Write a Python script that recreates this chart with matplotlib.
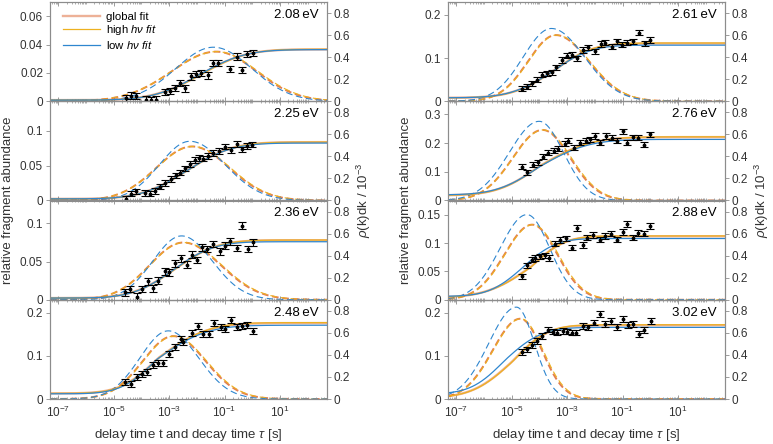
import math
import numpy as np
import matplotlib
matplotlib.use("Agg")
import matplotlib.pyplot as plt
from matplotlib.lines import Line2D
from matplotlib.ticker import FixedLocator, LogLocator, NullFormatter

plt.rcParams["font.family"] = ["Liberation Sans", "DejaVu Sans"]
plt.rcParams["mathtext.fontset"] = "custom"
plt.rcParams["mathtext.rm"] = "Liberation Sans"
plt.rcParams["mathtext.it"] = "Liberation Sans:italic"
plt.rcParams["mathtext.default"] = "regular"

energies = ["2.08", "2.25", "2.36", "2.48", "2.61", "2.76", "2.88", "3.02"]
abund_top = [0.07, 0.142, 0.13, 0.23, 0.23, 0.346, 0.175, 0.23]
abund_ticks = [[0, 0.02, 0.04, 0.06], [0, 0.05, 0.1], [0, 0.05, 0.1], [0, 0.1, 0.2],
               [0, 0.1, 0.2], [0, 0.1, 0.2, 0.3], [0, 0.05, 0.1, 0.15], [0, 0.1, 0.2]]
rho_ticks = [0, 0.2, 0.4, 0.6, 0.8]
rho_top = 0.9
t_min, t_max = 5e-8, 5e2
t_ticks = [1e-7, 1e-5, 1e-3, 1e-1, 1e1]

# measured fragment abundance; delay times given as log10(t / s)
log_t = [
    [-4.55, -4.37, -4.19, -3.85, -3.67, -3.49, -3.15, -2.97, -2.79, -2.61, -2.43,
     -2.20, -2.02, -1.86, -1.61, -1.42, -1.24, -0.80, -0.56, -0.38, -0.20, 0.04],
    [-4.57, -4.39, -4.21, -3.87, -3.69, -3.51, -3.33, -3.15, -2.93, -2.75, -2.61, -2.43,
     -2.25, -2.07, -1.93, -1.76, -1.58, -1.40, -1.20, -0.98, -0.76, -0.56, -0.38, -0.20, -0.02],
    [-4.59, -4.41, -4.17, -3.99, -3.77, -3.57, -3.39, -3.15, -3.00, -2.79, -2.57, -2.37,
     -2.18, -2.00, -1.80, -1.64, -1.40, -1.16, -0.98, -0.80, -0.56, -0.38, -0.14, 0.04],
    [-4.59, -4.38, -4.17, -3.99, -3.81, -3.57, -3.39, -3.21, -3.00, -2.79, -2.57, -2.49,
     -2.16, -1.95, -1.77, -1.56, -1.37, -1.13, -0.98, -0.77, -0.56, -0.38, -0.20, 0.04],
    [-4.64, -4.46, -4.28, -4.10, -3.92, -3.74, -3.56, -3.40, -3.20, -2.99, -2.84, -2.66,
     -2.41, -2.23, -1.99, -1.79, -1.63, -1.39, -1.21, -1.03, -0.85, -0.63, -0.39, -0.19, -0.01],
    [-4.64, -4.46, -4.22, -4.04, -3.86, -3.68, -3.47, -3.32, -3.08, -2.96, -2.75, -2.54,
     -2.32, -2.18, -1.99, -1.81, -1.60, -1.39, -1.21, -0.99, -0.85, -0.61, -0.43, -0.22, -0.01],
    [-4.64, -4.46, -4.28, -4.16, -3.98, -3.80, -3.64, -3.44, -3.24, -3.04, -2.84, -2.63,
     -2.42, -2.27, -2.08, -1.81, -1.63, -1.43, -1.21, -1.00, -0.83, -0.61, -0.43, -0.22, -0.01],
    [-4.64, -4.46, -4.28, -4.10, -3.92, -3.68, -3.52, -3.35, -3.16, -2.99, -2.84, -2.68,
     -2.42, -2.23, -2.03, -1.81, -1.63, -1.43, -1.21, -0.99, -0.79, -0.61, -0.39, -0.22, 0.02],
]
abundance = [
    [0.0025, 0.0040, 0.0035, 0.0012, 0.0008, 0.0012, 0.0065, 0.0072, 0.0095, 0.0128, 0.0090,
     0.0175, 0.0190, 0.0200, 0.0182, 0.0268, 0.0268, 0.0230, 0.0315, 0.0218, 0.0335, 0.0342],
    [0.002, 0.010, 0.013, 0.011, 0.010, 0.014, 0.020, 0.025, 0.031, 0.036, 0.040, 0.046,
     0.052, 0.058, 0.061, 0.060, 0.064, 0.068, 0.071, 0.077, 0.072, 0.081, 0.073, 0.078, 0.080],
    [0.0096, 0.014, 0.0039, 0.014, 0.024, 0.0153, 0.0249, 0.0371, 0.0358, 0.0476, 0.0546, 0.0459,
     0.059, 0.052, 0.0686, 0.0664, 0.073, 0.0633, 0.0708, 0.0764, 0.0677, 0.097, 0.0664, 0.0751],
    [0.040, 0.0346, 0.0515, 0.0577, 0.063, 0.0785, 0.0824, 0.0824, 0.104, 0.121, 0.138, 0.132,
     0.152, 0.169, 0.150, 0.150, 0.176, 0.167, 0.163, 0.184, 0.166, 0.169, 0.171, 0.158],
    [0.0286, 0.034, 0.0416, 0.050, 0.0617, 0.0647, 0.067, 0.0785, 0.0956, 0.1055, 0.108, 0.100,
     0.1187, 0.1247, 0.1155, 0.1325, 0.136, 0.126, 0.1386, 0.131, 0.136, 0.1386, 0.159, 0.134, 0.1418],
    [0.118, 0.098, 0.125, 0.133, 0.152, 0.167, 0.173, 0.181, 0.198, 0.208, 0.184, 0.202,
     0.208, 0.213, 0.225, 0.202, 0.225, 0.219, 0.208, 0.242, 0.202, 0.221, 0.219, 0.194, 0.231],
    [0.041, 0.0606, 0.0707, 0.0742, 0.0765, 0.0783, 0.0742, 0.099, 0.105, 0.108, 0.092, 0.127,
     0.096, 0.1095, 0.1136, 0.106, 0.112, 0.1166, 0.106, 0.1195, 0.133, 0.1095, 0.1177, 0.1166, 0.1295],
    [0.109, 0.115, 0.125, 0.135, 0.146, 0.161, 0.156, 0.154, 0.158, 0.156, 0.154, 0.154,
     0.169, 0.166, 0.177, 0.197, 0.174, 0.181, 0.1675, 0.185, 0.171, 0.174, 0.150, 0.160, 0.181],
]
abundance_err = [0.0022, 0.004, 0.0045, 0.007, 0.006, 0.009, 0.005, 0.0065]

# fit results per panel, columns: global fit, high hv fit, low hv fit
# abundance curve: base, plateau, midpoint (log10 t), lower / upper width in decades
rise_base = [[0.0008, 0.0008, 0.0008], [0.0023, 0.0023, 0.0023], [0.0022, 0.0022, 0.0022],
             [0.013, 0.013, 0.012], [0.008, 0.008, 0.008], [0.018, 0.018, 0.0196],
             [0.004, 0.004, 0.006], [0.003, 0.003, 0.012]]
rise_top = [[0.0366, 0.0367, 0.0364], [0.0835, 0.0836, 0.0822], [0.078, 0.0782, 0.076],
            [0.176, 0.177, 0.171], [0.134, 0.135, 0.130], [0.221, 0.222, 0.213],
            [0.112, 0.1125, 0.108], [0.171, 0.172, 0.166]]
rise_mid = [[-1.88, -1.85, -1.92], [-2.36, -2.34, -2.38], [-2.80, -2.78, -2.85],
            [-3.40, -3.38, -3.45], [-3.48, -3.46, -3.52], [-4.00, -3.98, -4.02],
            [-4.31, -4.29, -4.60], [-4.98, -4.96, -5.26]]
rise_lo = [[1.35, 1.35, 1.30], [1.30, 1.30, 1.28], [1.20, 1.20, 1.15], [1.05, 1.05, 1.00],
           [1.20, 1.20, 1.20], [1.20, 1.20, 1.20], [1.27, 1.27, 0.96], [1.15, 1.15, 0.95]]
rise_hi = [[1.30, 1.30, 1.30], [1.30, 1.30, 1.28], [1.20, 1.20, 1.15], [1.40, 1.40, 1.40],
           [1.10, 1.10, 1.08], [1.45, 1.45, 1.40], [0.95, 0.95, 0.93], [1.00, 1.00, 1.05]]
# decay time distribution rho(k)dk: peak position (log10 tau), height, left / right width
peak_pos = [[-1.30, -1.28, -1.40], [-2.17, -2.15, -2.25], [-2.49, -2.47, -2.55],
            [-2.85, -2.83, -3.03], [-3.41, -3.39, -3.57], [-3.89, -3.87, -4.01],
            [-4.26, -4.24, -4.45], [-4.69, -4.67, -4.83]]
peak_height = [[0.45, 0.45, 0.49], [0.49, 0.49, 0.537], [0.519, 0.519, 0.579],
               [0.57, 0.57, 0.618], [0.60, 0.60, 0.66], [0.64, 0.64, 0.718],
               [0.681, 0.681, 0.772], [0.728, 0.728, 0.833]]
peak_lo = [[1.60, 1.62, 1.36], [1.29, 1.30, 1.10], [1.21, 1.22, 1.04], [1.10, 1.10, 1.02],
           [1.00, 1.00, 1.02], [1.07, 1.08, 1.08], [1.00, 1.00, 0.97], [1.00, 1.00, 1.00]]
peak_hi = [[1.45, 1.48, 1.38], [1.34, 1.36, 1.27], [1.35, 1.37, 1.11], [1.16, 1.18, 1.09],
           [1.19, 1.20, 1.20], [1.00, 1.02, 0.88], [0.90, 0.92, 0.82], [0.78, 0.80, 0.65]]

fit_names = ["global fit", r"high $\mathit{h\nu\ fit}$", r"low $\mathit{h\nu\ fit}$"]
fit_colors = ["#D95319", "#EDB120", "#2e86cf"]
fit_alpha = [0.45, 1.0, 1.0]
fit_lw = [1.7, 0.9, 0.9]
dash_lw = [1.4, 0.8, 0.8]
dash_style = [(0, (3.4, 1.9)), (0, (5.9, 3.3)), (0, (5.9, 3.3))]

GRAY = "#8c8c8c"
TXT = "#333333"
erf = np.vectorize(math.erf)


def rise_curve(lg, base, top, mid, lo, hi):
    s = np.where(lg < mid, lo, hi)
    return base + (top - base) * 0.5 * (1 + erf((lg - mid) / (s * np.sqrt(2))))


def peak_curve(lg, pos, height, lo, hi):
    s = np.where(lg < pos, lo, hi)
    return height * np.exp(-0.5 * ((lg - pos) / s) ** 2)


fig = plt.figure(figsize=(7.73, 4.44), dpi=100)
W, H = 773.0, 444.0
col_left = [50, 448]
ax_w = 277
row_top = 2
row_h = 99.25

lg = np.linspace(np.log10(t_min), np.log10(t_max), 600)
t = 10 ** lg

for i in range(8):
    col, row = i // 4, i % 4
    bottom = H - (row_top + row_h * (row + 1))
    ax = fig.add_axes([col_left[col] / W, bottom / H, ax_w / W, row_h / H])
    ax2 = ax.twinx()
    ax.set_zorder(2)
    ax2.set_zorder(1)
    ax.patch.set_visible(False)

    for j in range(3):
        rho = peak_curve(lg, peak_pos[i][j], peak_height[i][j], peak_lo[i][j], peak_hi[i][j])
        ax2.plot(t, rho, color=fit_colors[j], alpha=0.75 if j == 0 else 1.0, lw=dash_lw[j],
                 linestyle=dash_style[j])
        n = rise_curve(lg, rise_base[i][j], rise_top[i][j], rise_mid[i][j],
                       rise_lo[i][j], rise_hi[i][j])
        ax.plot(t, n, color=fit_colors[j], alpha=fit_alpha[j], lw=fit_lw[j], zorder=2)

    ax.errorbar(10 ** np.array(log_t[i]), abundance[i], yerr=abundance_err[i], fmt=".",
                color="k", ms=3.5, elinewidth=0.8, capsize=3.2, capthick=0.8, zorder=3)

    ax.set_xscale("log")
    ax.set_xlim(t_min, t_max)
    ax.set_ylim(0, abund_top[i])
    ax2.set_ylim(0, rho_top)
    ax.yaxis.set_major_locator(FixedLocator(abund_ticks[i]))
    ax.set_yticklabels([f"{v:g}" for v in abund_ticks[i]])
    ax2.yaxis.set_major_locator(FixedLocator(rho_ticks))
    ax2.set_yticklabels([f"{v:g}" for v in rho_ticks])
    ax.xaxis.set_major_locator(FixedLocator(t_ticks))
    ax.xaxis.set_minor_locator(LogLocator(base=10, subs=np.arange(1, 10), numticks=100))
    ax.xaxis.set_minor_formatter(NullFormatter())
    if row == 3:
        ax.set_xticklabels([r"$10^{%d}$" % round(math.log10(v)) for v in t_ticks])
    else:
        ax.set_xticklabels([])

    ax.tick_params(axis="x", which="both", direction="in", top=True, color=GRAY,
                   labelcolor=TXT, labelsize=8.5, pad=4)
    ax.tick_params(axis="x", which="major", length=3, width=0.6)
    ax.tick_params(axis="x", which="minor", length=1.5, width=0.5)
    ax.tick_params(axis="y", direction="out", length=3, width=0.6, color=GRAY,
                   labelcolor=TXT, labelsize=8.5, pad=2)
    ax2.tick_params(axis="y", direction="out", length=3, width=0.6, color=GRAY,
                    labelcolor=TXT, labelsize=8.5, pad=2)
    for a in (ax, ax2):
        for sp in a.spines.values():
            sp.set_color(GRAY)
            sp.set_linewidth(0.8)

    ax.text(0.97, 0.87, energies[i] + "\u2009eV", transform=ax.transAxes,
            ha="right", va="center", fontsize=9.5, color="k")

    if i == 0:
        handles = [Line2D([], [], color=fit_colors[j], alpha=fit_alpha[j], lw=fit_lw[j])
                   for j in range(3)]
        ax.legend(handles, fit_names, loc="upper left", bbox_to_anchor=(0.03, 0.95),
                  frameon=False, fontsize=8.2, handlelength=3.3, handletextpad=0.5,
                  labelspacing=0.15, borderaxespad=0.0)

for col in range(2):
    x0 = col_left[col]
    fig.text((x0 - 42) / W, 1 - 200.5 / H, "relative fragment abundance", rotation=90,
             ha="center", va="center", fontsize=9.5, color=TXT)
    fig.text((x0 + ax_w + 37) / W, 1 - 200.5 / H, r"$\mathit{\rho}$(k)dk / 10$^{-3}$",
             rotation=90, ha="center", va="center", fontsize=9.5, color=TXT)
    fig.text((x0 + ax_w / 2) / W, 1 - 435 / H, r"delay time t and decay time $\mathit{\tau}$ [s]",
             ha="center", va="center", fontsize=9.5, color=TXT)

fig.savefig("out.png", dpi=100)
